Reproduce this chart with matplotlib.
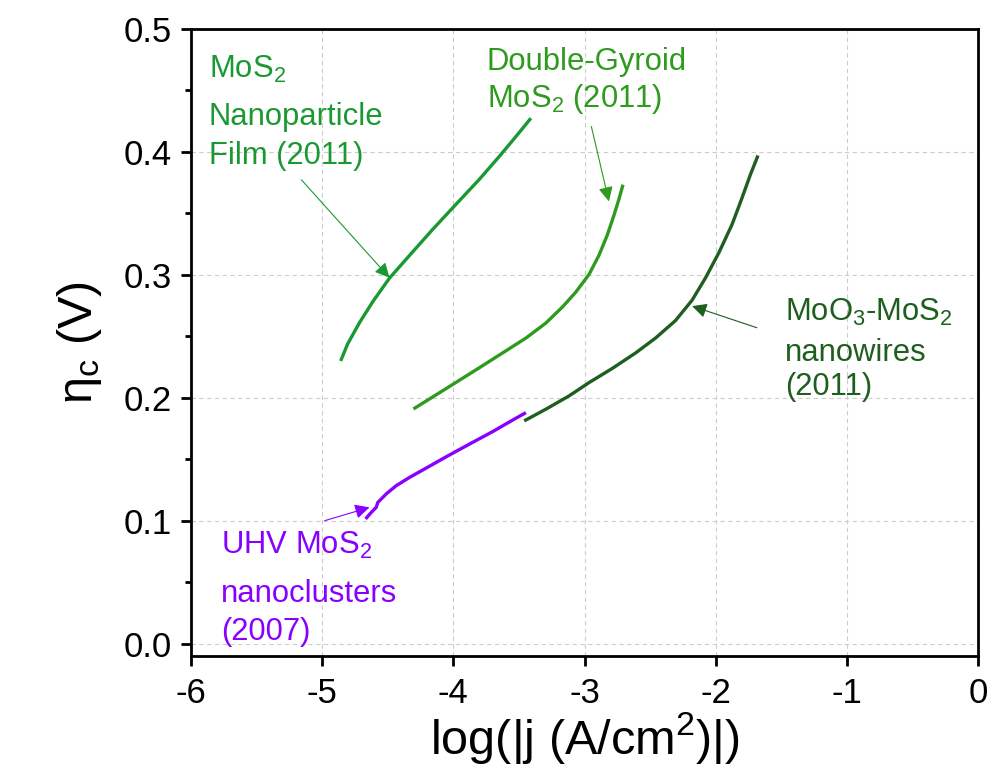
import matplotlib
matplotlib.use("Agg")
import matplotlib.pyplot as plt
from matplotlib.ticker import MultipleLocator, FormatStrFormatter

plt.rcParams['font.family'] = ['Liberation Sans', 'DejaVu Sans']
plt.rcParams['mathtext.fontset'] = 'custom'
plt.rcParams['mathtext.rm'] = 'Liberation Sans'
plt.rcParams['mathtext.it'] = 'Liberation Sans:italic'
plt.rcParams['mathtext.bf'] = 'Liberation Sans:bold'

# Tafel curves: log current density vs. cathodic overpotential
film_x = [-4.859, -4.806, -4.715, -4.614, -4.487, -4.309, -4.157, -3.980,
          -3.802, -3.650, -3.523, -3.409]
film_y = [0.2298, 0.2436, 0.2610, 0.2780, 0.2971, 0.3186, 0.3368, 0.3571,
          0.3774, 0.3960, 0.4122, 0.4271]

gyroid_x = [-4.304, -4.053, -3.802, -3.650, -3.447, -3.295, -3.169, -3.067,
            -2.966, -2.890, -2.827, -2.776, -2.738, -2.707]
gyroid_y = [0.1908, 0.2075, 0.2243, 0.2346, 0.2484, 0.2606, 0.2736, 0.2857,
            0.3001, 0.3157, 0.3320, 0.3482, 0.3612, 0.3731]

wires_x = [-3.460, -3.295, -3.118, -2.966, -2.789, -2.611, -2.459, -2.307,
           -2.180, -2.078, -1.977, -1.876, -1.800, -1.736, -1.678]
wires_y = [0.1811, 0.1906, 0.2014, 0.2122, 0.2237, 0.2363, 0.2484, 0.2626,
           0.2792, 0.2973, 0.3176, 0.3406, 0.3622, 0.3812, 0.3968]

uhv_x = [-4.669, -4.626, -4.588, -4.576, -4.512, -4.436, -4.335, -4.208,
         -4.055, -3.878, -3.700, -3.549, -3.447]
uhv_y = [0.1014, 0.1067, 0.1108, 0.1148, 0.1217, 0.1284, 0.1351, 0.1427,
         0.1519, 0.1622, 0.1724, 0.1817, 0.1878]

c_film = '#1a9933'
c_gyroid = '#2e9a1e'
c_wires = '#1e5e1e'
c_uhv = '#8800ff'

fig, ax = plt.subplots(figsize=(9.92, 7.77), dpi=100)
plt.subplots_adjust(left=0.1925, right=0.986, top=0.9633, bottom=0.1557)

ax.grid(True, color='#cccccc', linestyle='--', linewidth=0.8, dashes=(4, 3))
ax.set_axisbelow(True)

for xs, ys, c in [(film_x, film_y, c_film), (gyroid_x, gyroid_y, c_gyroid),
                  (wires_x, wires_y, c_wires), (uhv_x, uhv_y, c_uhv)]:
    ax.plot(xs, ys, color=c, lw=2.4, solid_capstyle='butt',
            solid_joinstyle='round')

fs = 22.3
def label(x, y, s, color):
    ax.text(x, y, s, color=color, fontsize=fs, va='baseline', ha='left')

def arrow(tail, head, color):
    ax.annotate('', xy=head, xytext=tail,
                arrowprops=dict(arrowstyle='-|>', color=color, lw=0.8,
                                mutation_scale=22, shrinkA=0, shrinkB=0))

label(-5.863, 0.4595, 'MoS$_2$', c_film)
label(-5.863, 0.4212, 'Nanoparticle', c_film)
label(-5.863, 0.3896, 'Film (2011)', c_film)
arrow((-5.158, 0.377), (-4.487, 0.2975), c_film)

label(-3.747, 0.4663, 'Double-Gyroid', c_gyroid)
label(-3.747, 0.4366, 'MoS$_2$ (2011)', c_gyroid)
arrow((-2.948, 0.4204), (-2.814, 0.3595), c_gyroid)

label(-1.472, 0.2622, 'MoO$_3$-MoS$_2$', c_wires)
label(-1.472, 0.2298, 'nanowires', c_wires)
label(-1.472, 0.202, '(2011)', c_wires)
arrow((-1.686, 0.2568), (-2.18, 0.2744), c_wires)

label(-5.77, 0.073, 'UHV MoS$_2$', c_uhv)
label(-5.77, 0.0337, 'nanoclusters', c_uhv)
label(-5.77, 0.0027, '(2007)', c_uhv)
arrow((-4.981, 0.100), (-4.639, 0.1108), c_uhv)

ax.set_xlim(-6, 0)
ax.set_ylim(-0.01, 0.5)
ax.xaxis.set_major_locator(MultipleLocator(1))
ax.yaxis.set_major_locator(MultipleLocator(0.1))
ax.yaxis.set_minor_locator(MultipleLocator(0.05))
ax.xaxis.set_major_formatter(FormatStrFormatter('%d'))
ax.yaxis.set_major_formatter(FormatStrFormatter('%.1f'))

for sp in ax.spines.values():
    sp.set_linewidth(2)
ax.tick_params(axis='both', which='major', direction='out', length=7, width=2,
               labelsize=25, top=False, right=False)
ax.tick_params(axis='y', which='minor', direction='out', length=4, width=2)
ax.tick_params(axis='x', pad=8)
ax.tick_params(axis='y', pad=7)

ax.set_xlabel('log(|j (A/cm$^2$)|)', fontsize=35, labelpad=0)
ax.set_ylabel('η$_\\mathrm{c}$ (V)', fontsize=35, labelpad=14)

plt.savefig('out.png', dpi=100)
plt.close()
